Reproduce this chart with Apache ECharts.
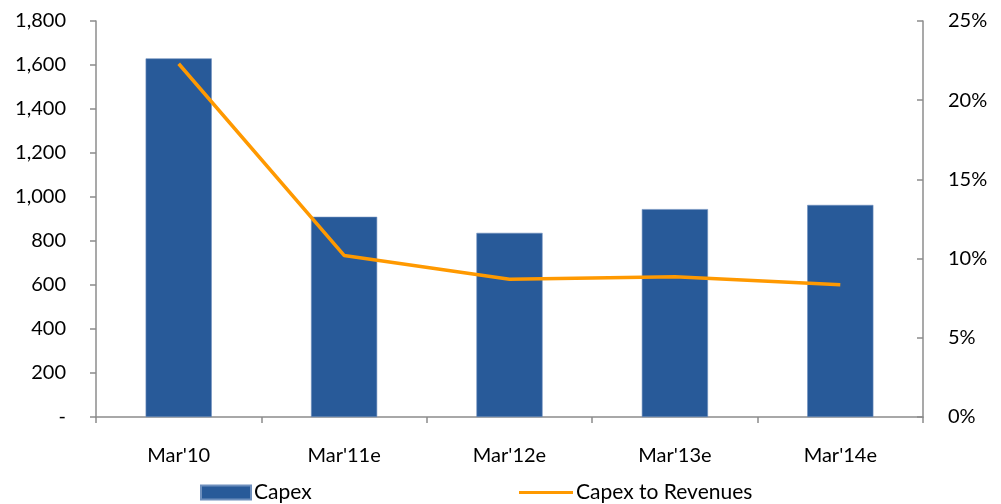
<!DOCTYPE html>
<html>
<head>
<meta charset="utf-8">
<script src="https://cdn.jsdelivr.net/npm/echarts@6/dist/echarts.min.js"></script>
<style>
  html, body { margin: 0; padding: 0; background: #fff; }
  #chart { width: 1001px; height: 504px; }
</style>
</head>
<body>
<div id="chart"></div>
<script>
// Fiscal years (e = estimate)
const categories = ["Mar'10", "Mar'11e", "Mar'12e", "Mar'13e", "Mar'14e"];
// Capital expenditure (left axis)
const capex = [1630, 910, 837, 945, 964];
// Capex as a share of revenues, in percent (right axis)
const capexToRevenues = [22.3, 10.2, 8.7, 8.85, 8.35];
// Left axis tick labels, 0 shown as a dash
const leftTicks = [0, 200, 400, 600, 800, 1000, 1200, 1400, 1600, 1800];

const FONT = "Lato, 'Open Sans', sans-serif";
const BAR_COLOR = '#285A99';
const LINE_COLOR = '#FF9900';
const AXIS_COLOR = '#8C8C8C';

const chart = echarts.init(document.getElementById('chart'), null, { renderer: 'canvas' });

chart.setOption({
  animation: false,
  textStyle: { fontFamily: FONT },
  grid: { left: 96, right: 78, top: 21, bottom: 87, containLabel: false },
  legend: [
    {
      left: 200, top: 482, padding: 0,
      itemWidth: 50, itemHeight: 14, itemGap: 4,
      icon: 'rect',
      data: [{ name: 'Capex' }],
      textStyle: { fontSize: 21, color: '#000', fontFamily: FONT, padding: [0, 0, 0, -2] }
    },
    {
      left: 519, top: 482, padding: 0,
      itemWidth: 54, itemHeight: 3,
      icon: 'rect',
      data: [{ name: 'Capex to Revenues' }],
      textStyle: { fontSize: 21, color: '#000', fontFamily: FONT, padding: [0, 0, 0, -2] }
    }
  ],
  xAxis: {
    type: 'category',
    data: categories,
    boundaryGap: true,
    axisLine: { lineStyle: { color: AXIS_COLOR, width: 1.5 } },
    axisTick: { show: true, length: 6, alignWithLabel: false, lineStyle: { color: AXIS_COLOR, width: 1.5 } },
    axisLabel: { fontSize: 20, color: '#000', margin: 29, fontFamily: FONT },
    splitLine: { show: false }
  },
  yAxis: [
    {
      type: 'value',
      min: 0, max: 1800, interval: 200,
      axisLine: { show: true, lineStyle: { color: AXIS_COLOR, width: 1.5 } },
      axisTick: { show: true, length: 6, lineStyle: { color: AXIS_COLOR, width: 1.5 } },
      axisLabel: {
        fontSize: 20, color: '#000', margin: 30, fontFamily: FONT,
        formatter: v => (leftTicks.indexOf(v) === 0 ? '-' : v.toLocaleString('en-US'))
      },
      splitLine: { show: false }
    },
    {
      type: 'value',
      min: 0, max: 25, interval: 5,
      position: 'right',
      axisLine: { show: true, lineStyle: { color: AXIS_COLOR, width: 1.5 } },
      axisTick: { show: true, inside: true, length: 6, lineStyle: { color: AXIS_COLOR, width: 1.5 } },
      axisLabel: { fontSize: 20, color: '#000', margin: 25, fontFamily: FONT, formatter: v => v + '%' },
      splitLine: { show: false }
    }
  ],
  series: [
    {
      name: 'Capex',
      type: 'bar',
      yAxisIndex: 0,
      data: capex,
      barWidth: '40%',
      itemStyle: { color: BAR_COLOR, borderColor: '#6E8FBD', borderWidth: 0.6 }
    },
    {
      name: 'Capex to Revenues',
      type: 'line',
      yAxisIndex: 1,
      data: capexToRevenues,
      symbol: 'none',
      showSymbol: false,
      itemStyle: { color: LINE_COLOR },
      lineStyle: { color: LINE_COLOR, width: 3.5 }
    }
  ]
});
</script>
</body>
</html>
